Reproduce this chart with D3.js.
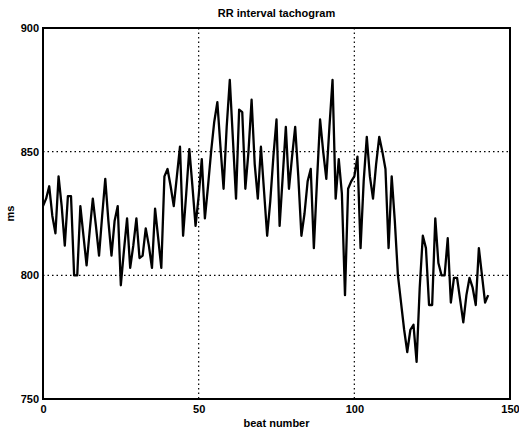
<!DOCTYPE html>
<html>
<head>
<meta charset="utf-8">
<script src="https://cdn.jsdelivr.net/npm/d3@7"></script>
<style>
  html, body { margin: 0; padding: 0; background: #fff; }
  svg { display: block; }
  text { font-family: "Liberation Sans", Arial, sans-serif; fill: #000; }
</style>
</head>
<body>
<svg id="chart" width="519" height="433"></svg>
<script>
// RR interval (ms) per beat number 0..143
const rrValues = [
  828, 831, 836, 824, 817, 840, 828, 812, 832, 832,
  800, 800, 828, 816, 804, 818, 831, 820, 808, 824,
  839, 822, 808, 822, 828, 796, 810, 823, 803, 812,
  823, 807, 808, 819, 812, 803, 827, 815, 803, 840,
  843, 836, 828, 840, 852, 816, 833, 851, 836, 820,
  832, 847, 823, 836, 850, 862, 870, 852, 835, 860,
  879, 855, 831, 867, 866, 835, 850, 871, 845, 831,
  852, 834, 816, 830, 848, 863, 820, 840, 860, 835,
  848, 860, 840, 816, 825, 838, 843, 811, 838, 863,
  850, 839, 860, 879, 831, 847, 833, 792, 835, 838,
  840, 848, 811, 838, 856, 840, 831, 845, 856, 850,
  843, 811, 840, 822, 800, 789, 778, 769, 778, 780,
  765, 795, 816, 811, 788, 788, 823, 805, 800, 800,
  815, 789, 799, 799, 790, 781, 792, 799, 795, 788,
  811, 800, 789, 792
];
const beats = rrValues.map((v, i) => i);
const xTicks = [0, 50, 100, 150];
const yTicks = [750, 800, 850, 900];
const titleText = "RR interval tachogram";
const xLabel = "beat number";
const yLabel = "ms";

const svg = d3.select("#chart");
const mLeft = 43, mRight = 510, mTop = 28, mBottom = 399;

const x = d3.scaleLinear().domain([0, 150]).range([mLeft, mRight]);
const y = d3.scaleLinear().domain([750, 900]).range([mBottom, mTop]);

// grid (dotted)
const grid = svg.append("g");
grid.selectAll("line.gx").data(xTicks.filter(t => t > 0 && t < 150)).enter()
  .append("line")
  .attr("x1", d => x(d)).attr("x2", d => x(d))
  .attr("y1", mTop).attr("y2", mBottom)
  .attr("stroke", "#000").attr("stroke-width", 1.2)
  .attr("stroke-dasharray", "1.5,3");
grid.selectAll("line.gy").data(yTicks.filter(t => t > 750 && t < 900)).enter()
  .append("line")
  .attr("x1", mLeft).attr("x2", mRight)
  .attr("y1", d => y(d)).attr("y2", d => y(d))
  .attr("stroke", "#000").attr("stroke-width", 1.2)
  .attr("stroke-dasharray", "1.5,3");

// axes
const xAxis = d3.axisBottom(x).tickValues(xTicks).tickSize(0).tickPadding(6);
const yAxis = d3.axisLeft(y).tickValues(yTicks).tickSize(0).tickPadding(4);

const gx = svg.append("g").attr("transform", `translate(0,${mBottom})`).call(xAxis);
gx.select(".domain").remove();
gx.selectAll("text").style("font-size", "11px").style("font-weight", "bold")
  .style("font-family", "'Liberation Sans', Arial, sans-serif");

const gy = svg.append("g").attr("transform", `translate(${mLeft},0)`).call(yAxis);
gy.select(".domain").remove();
gy.selectAll("text").style("font-size", "11px").style("font-weight", "bold")
  .style("font-family", "'Liberation Sans', Arial, sans-serif");

// data line
const line = d3.line().x((d, i) => x(beats[i])).y(d => y(d));
svg.append("path")
  .datum(rrValues)
  .attr("d", line)
  .attr("fill", "none")
  .attr("stroke", "#000")
  .attr("stroke-width", 2.3)
  .attr("stroke-linejoin", "round");

// frame
svg.append("rect")
  .attr("x", mLeft).attr("y", mTop)
  .attr("width", mRight - mLeft).attr("height", mBottom - mTop)
  .attr("fill", "none").attr("stroke", "#000").attr("stroke-width", 2);

// labels
svg.append("text").attr("x", (mLeft + mRight) / 2).attr("y", 17)
  .attr("text-anchor", "middle").style("font-size", "11px").style("font-weight", "bold")
  .text(titleText);
svg.append("text").attr("x", (mLeft + mRight) / 2).attr("y", 427)
  .attr("text-anchor", "middle").style("font-size", "11px").style("font-weight", "bold")
  .text(xLabel);
svg.append("text")
  .attr("transform", `translate(14,${(mTop + mBottom) / 2}) rotate(-90)`)
  .attr("text-anchor", "middle").style("font-size", "11px").style("font-weight", "bold")
  .text(yLabel);
</script>
</body>
</html>
